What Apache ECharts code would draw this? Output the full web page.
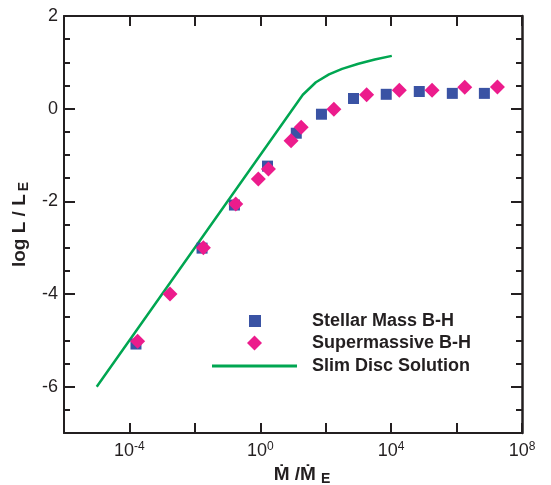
<!DOCTYPE html>
<html>
<head>
<meta charset="utf-8">
<script src="https://cdn.jsdelivr.net/npm/echarts@6/dist/echarts.min.js"></script>
<style>html,body{margin:0;padding:0;background:#fff}#c{width:551px;height:485px}</style>
</head>
<body>
<div id="c"></div>
<script>
// x values are log10(Mdot / Mdot_E); y values are log L / L_E
const stellarX = [-3.8, -1.78, -0.79, 0.22, 1.1, 1.87, 2.85, 3.85, 4.86, 5.87, 6.85];
const stellarY = [-5.08, -3.01, -2.08, -1.24, -0.53, -0.12, 0.22, 0.31, 0.37, 0.33, 0.33];
const superX = [-3.75, -2.76, -1.74, -0.75, -0.06, 0.25, 0.94, 1.25, 2.25, 3.25, 4.25, 5.25, 6.25, 7.25];
const superY = [-5.02, -4.0, -3.0, -2.06, -1.52, -1.30, -0.69, -0.40, -0.01, 0.30, 0.40, 0.40, 0.46, 0.47];
const slimX = [-5.0, 1.3, 1.7, 2.1, 2.5, 3.0, 3.5, 4.02];
const slimY = [-6.0, 0.3, 0.57, 0.74, 0.86, 0.97, 1.06, 1.14];
const xLabelExps = [-4, 0, 4, 8];
const yLabels = [-6, -4, -2, 0, 2];
const seriesNames = ['Stellar Mass B-H', 'Supermassive B-H', 'Slim Disc Solution'];

const zip = (a, b) => a.map((v, i) => [v, b[i]]);
const FONT = 'Liberation Sans, Arial, Helvetica, sans-serif';
const AX = '#231f20';
const BLUE = '#3a53a4', PINK = '#ec1c8c', GREEN = '#00a651';

const chart = echarts.init(document.getElementById('c'), null, {renderer: 'canvas'});
const lineStyle = {color: AX, width: 2};
const legText = (pad) => ({fontFamily: FONT, fontSize: 18, fontWeight: 'bold', color: AX, padding: [0, 0, 0, pad]});
chart.setOption({
  animation: false,
  backgroundColor: '#fff',
  grid: {left: 64, top: 16, right: 29, bottom: 52, containLabel: false, outerBoundsMode: 'none'},
  legend: [
    {
      orient: 'vertical', left: 249, top: 312, padding: 0, itemWidth: 12, itemHeight: 12,
      data: [{name: seriesNames[0], icon: 'rect'}],
      textStyle: legText(46)
    },
    {
      orient: 'vertical', left: 247, top: 334, padding: 0, itemWidth: 15, itemHeight: 15,
      data: [{name: seriesNames[1], icon: 'diamond'}],
      textStyle: legText(45)
    },
    {
      orient: 'vertical', left: 212, top: 357, padding: 0, itemWidth: 85, itemHeight: 3,
      data: [{name: seriesNames[2], icon: 'rect'}],
      textStyle: legText(10)
    }
  ],
  xAxis: [
    {
      type: 'value', position: 'bottom', min: -6, max: 8, interval: 2,
      splitLine: {show: false},
      axisLine: {onZero: false, lineStyle},
      axisTick: {inside: true, length: 10, lineStyle},
      axisLabel: {
        margin: 8, color: AX, fontFamily: FONT, fontSize: 18,
        formatter: v => xLabelExps.includes(v) ? '10{sup|' + v + '}' : '',
        rich: {sup: {fontFamily: FONT, fontSize: 12, color: AX, padding: [0, 0, 9, 0]}}
      },
      name: '\u1E40 /\u1E40{sub|E}', nameLocation: 'middle', nameGap: 24,
      nameTextStyle: {fontFamily: FONT, fontSize: 19, fontWeight: 'bold', color: AX, padding: [0, 0, 0, 18],
        rich: {sub: {fontFamily: FONT, fontSize: 14, fontWeight: 'bold', color: AX, padding: [9, 0, 0, 5]}}}
    },
    {
      type: 'value', position: 'top', min: -6, max: 8, interval: 2,
      splitLine: {show: false},
      axisLine: {onZero: false, lineStyle},
      axisTick: {inside: true, length: 10, lineStyle},
      axisLabel: {show: false}
    }
  ],
  yAxis: [
    {
      type: 'value', position: 'left', min: -7, max: 2, interval: 0.5,
      splitLine: {show: false},
      axisLine: {onZero: false, lineStyle},
      axisTick: {inside: true, length: 6, lineStyle},
      axisLabel: {customValues: yLabels, margin: 6, color: AX, fontFamily: FONT, fontSize: 18},
      name: 'log L / L{sub|E}', nameLocation: 'middle', nameGap: 29, nameRotate: 90,
      nameTextStyle: {fontFamily: FONT, fontSize: 19, fontWeight: 'bold', color: AX,
        rich: {sub: {fontFamily: FONT, fontSize: 14, fontWeight: 'bold', color: AX, padding: [9, 0, 0, 3]}}}
    },
    {
      type: 'value', position: 'left', min: -7, max: 2, interval: 0.5,
      splitLine: {show: false},
      axisLine: {show: false, onZero: false},
      axisTick: {inside: true, length: 11, customValues: yLabels, lineStyle},
      axisLabel: {show: false}
    },
    {
      type: 'value', position: 'right', min: -7, max: 2, interval: 0.5,
      splitLine: {show: false},
      axisLine: {onZero: false, lineStyle: {color: AX, width: 2.5}},
      axisTick: {inside: true, length: 6, lineStyle},
      axisLabel: {show: false}
    },
    {
      type: 'value', position: 'right', min: -7, max: 2, interval: 0.5,
      splitLine: {show: false},
      axisLine: {show: false, onZero: false},
      axisTick: {inside: true, length: 11, customValues: yLabels, lineStyle},
      axisLabel: {show: false}
    }
  ],
  series: [
    {
      name: seriesNames[0], type: 'scatter', xAxisIndex: 0, yAxisIndex: 0, z: 3,
      symbol: 'rect', symbolSize: 11,
      itemStyle: {color: BLUE, opacity: 1},
      data: zip(stellarX, stellarY)
    },
    {
      name: seriesNames[1], type: 'scatter', xAxisIndex: 0, yAxisIndex: 0, z: 4,
      symbol: 'diamond', symbolSize: 15,
      itemStyle: {color: PINK, opacity: 1},
      data: zip(superX, superY)
    },
    {
      name: seriesNames[2], type: 'line', xAxisIndex: 0, yAxisIndex: 0, z: 2,
      showSymbol: false, symbol: 'none', smooth: false,
      lineStyle: {color: GREEN, width: 2.5},
      itemStyle: {color: GREEN},
      data: zip(slimX, slimY)
    }
  ]
});
</script>
</body>
</html>
